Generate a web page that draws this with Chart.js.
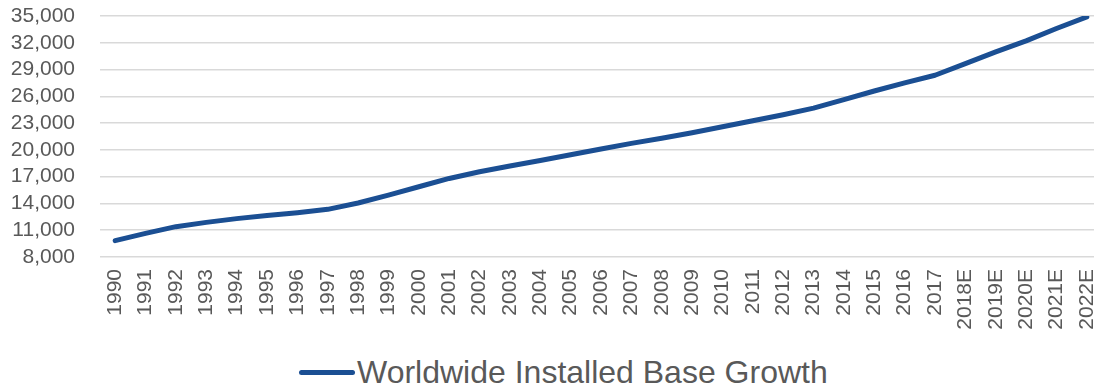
<!DOCTYPE html>
<html>
<head>
<meta charset="utf-8">
<script src="https://cdn.jsdelivr.net/npm/chart.js@4/dist/chart.umd.min.js"></script>
<style>
  html, body { margin: 0; padding: 0; background: #ffffff; }
  body { width: 1094px; height: 390px; overflow: hidden; position: relative; font-family: "Liberation Sans", Arial, sans-serif; }
  #wrap { position: absolute; left: 0; top: 0; width: 1102px; height: 345px; }
  #legend { position: absolute; left: 299px; top: 355px; display: flex; align-items: center; height: 34px; }
  #legend .swatch { width: 56px; height: 5px; border-radius: 3px; background: #1B4F93; }
  #legend .label { margin-left: 2px; font-size: 32px; line-height: 34px; color: #595959; white-space: nowrap; }
</style>
</head>
<body>
<div id="wrap"><canvas id="chart" width="1102" height="345"></canvas></div>
<div id="legend"><span class="swatch"></span><span class="label" id="legendLabel"></span></div>
<script>
// Years on the category axis (E = estimate)
const years = [
  "1990", "1991", "1992", "1993", "1994", "1995", "1996", "1997", "1998", "1999",
  "2000", "2001", "2002", "2003", "2004", "2005", "2006", "2007", "2008", "2009",
  "2010", "2011", "2012", "2013", "2014", "2015", "2016", "2017",
  "2018E", "2019E", "2020E", "2021E", "2022E"
];

// Installed base per year
const installedBase = [
  9830, 10650, 11400, 11880, 12300, 12650, 12960, 13340, 14050, 14940,
  15870, 16800, 17550, 18200, 18820, 19450, 20100, 20730, 21300, 21920,
  22590, 23270, 23940, 24680, 25630, 26600, 27500, 28360,
  29670, 30980, 32220, 33600, 34900
];

// Value axis range and step
const yMin = 8000;
const yMax = 35000;
const yStep = 3000;

const seriesName = "Worldwide Installed Base Growth";
document.getElementById("legendLabel").textContent = seriesName;

const tickFont = { family: "'Liberation Sans', Arial, sans-serif", size: 21 };
const tickColor = "#595959";

new Chart(document.getElementById("chart"), {
  type: "line",
  data: {
    labels: years,
    datasets: [{
      label: seriesName,
      data: installedBase,
      borderColor: "#1B4F93",
      backgroundColor: "#1B4F93",
      borderWidth: 5,
      borderCapStyle: "round",
      borderJoinStyle: "round",
      tension: 0,
      pointRadius: 0,
      pointHoverRadius: 0,
      fill: false
    }]
  },
  options: {
    responsive: false,
    animation: false,
    devicePixelRatio: 1,
    locale: "en-US",
    layout: { padding: { top: 16, right: 0, bottom: 0, left: 0 } },
    plugins: {
      legend: { display: false },
      tooltip: { enabled: false }
    },
    scales: {
      x: {
        type: "category",
        offset: true,
        grid: { display: false, drawTicks: false },
        border: { display: false },
        ticks: {
          color: tickColor,
          font: tickFont,
          minRotation: 90,
          maxRotation: 90,
          autoSkip: false,
          padding: 12
        },
        afterFit: (scale) => {
          scale.height = 88;
          scale.paddingLeft = 0;
          scale.paddingRight = 0;
        }
      },
      y: {
        min: yMin,
        max: yMax,
        grid: { color: "#D9D9D9", lineWidth: 1.5, drawTicks: false },
        border: { display: false },
        ticks: {
          stepSize: yStep,
          autoSkip: false,
          color: tickColor,
          font: tickFont,
          padding: 25
        },
        afterFit: (scale) => {
          scale.width = 100;
          scale.paddingTop = 12;
          scale.paddingBottom = 12;
        }
      }
    }
  }
});
</script>
</body>
</html>
